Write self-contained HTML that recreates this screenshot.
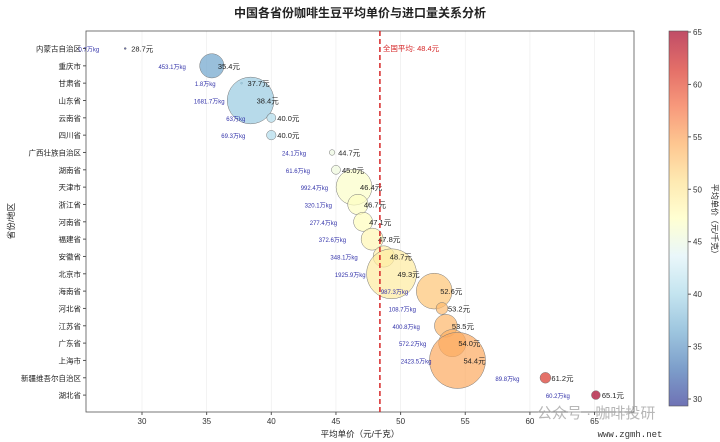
<!DOCTYPE html>
<html><head><meta charset="utf-8"><style>
body{margin:0;background:#fff;}
svg{display:block;font-family:"Liberation Sans","Noto Sans CJK SC",sans-serif;}
</style></head><body>
<svg id="s" width="720" height="442" viewBox="0 0 720 442" xmlns="http://www.w3.org/2000/svg"></svg>
<script>
const data=[["内蒙古自治区",28.7,0.7],["重庆市",35.4,453.1],["甘肃省",37.7,1.8],["山东省",38.4,1681.7],["云南省",40.0,63.0],["四川省",40.0,69.3],["广西壮族自治区",44.7,24.1],["湖南省",45.0,61.6],["天津市",46.4,992.4],["浙江省",46.7,320.1],["河南省",47.1,277.4],["福建省",47.8,372.6],["安徽省",48.7,348.1],["北京市",49.3,1925.9],["海南省",52.6,987.3],["河北省",53.2,108.7],["江苏省",53.5,400.8],["广东省",54.0,572.2],["上海市",54.4,2423.5],["新疆维吾尔自治区",61.2,89.8],["湖北省",65.1,60.2]];
const stops=[[49,54,149],[69,117,180],[116,173,209],[171,217,233],[224,243,248],[255,255,191],[254,224,144],[253,174,97],[244,109,67],[215,48,39],[165,0,38]];
function col(v){let t=(v-28.7)/(65.1-28.7);t=Math.max(0,Math.min(1,t))*(stops.length-1);let i=Math.min(Math.floor(t),stops.length-2),f=t-i;let c=stops[i].map((a,k)=>Math.round(a+(stops[i+1][k]-a)*f));return `rgb(${c})`;}
const X=v=>142+(v-30)*12.93, Y=i=>48.5+i*17.33;
let h='';
h+=`<text x="360" y="17" font-size="12" font-weight="bold" text-anchor="middle" fill="#222">中国各省份咖啡生豆平均单价与进口量关系分析</text>`;
for(let v=30;v<=65;v+=5){h+=`<line x1="${X(v)}" y1="31" x2="${X(v)}" y2="412" stroke="#eee" stroke-width="0.7"/><line x1="${X(v)}" y1="412" x2="${X(v)}" y2="415" stroke="#555"/><text x="${X(v)}" y="424" font-size="8" text-anchor="middle" fill="#333">${v}</text>`;}
h+=`<rect x="86" y="31" width="548" height="381" fill="none" stroke="#555" stroke-width="0.8"/>`;
data.forEach((d,i)=>{const y=Y(i),x=X(d[1]),r=Math.max(1,Math.sqrt(d[2])*0.57);
h+=`<line x1="83" y1="${y}" x2="86" y2="${y}" stroke="#555"/><text x="81" y="${y+3}" font-size="7.5" text-anchor="end" fill="#222">${d[0]}</text>`;
h+=`<circle cx="${x}" cy="${y}" r="${r}" fill="${col(d[1])}" fill-opacity="0.7" stroke="#777" stroke-width="0.5"/>`;});
data.forEach((d,i)=>{const y=Y(i),x=X(d[1]);
h+=`<text x="${x+6}" y="${y+3}" font-size="7.5" fill="#222">${d[1].toFixed(1)}元</text>`;
h+=`<text x="${x-26}" y="${y+3}" font-size="6" text-anchor="end" fill="#3333aa">${d[2]}万kg</text>`;});
const ax=X(48.4);
h+=`<line x1="${ax}" y1="31" x2="${ax}" y2="412" stroke="#d62728" stroke-width="1.5" stroke-dasharray="5,3"/><text x="${ax+3}" y="51" font-size="7.5" fill="#d62728">全国平均: 48.4元</text>`;
h+=`<text x="360" y="437" font-size="8.5" text-anchor="middle" fill="#222">平均单价（元/千克）</text>`;
h+=`<text transform="translate(14,221) rotate(-90)" font-size="8.5" text-anchor="middle" fill="#222">省份/地区</text>`;
h+=`<defs><linearGradient id="g" x1="0" y1="1" x2="0" y2="0">`;stops.forEach((c,k)=>{h+=`<stop offset="${k/(stops.length-1)}" stop-color="rgb(${c})" stop-opacity="0.7"/>`});h+=`</linearGradient></defs>`;
h+=`<rect x="669" y="31" width="19" height="375" fill="url(#g)" stroke="#555" stroke-width="0.6"/>`;
const CY=v=>32+(65-v)*10.486;
for(let v=30;v<=65;v+=5){h+=`<line x1="688" y1="${CY(v)}" x2="691" y2="${CY(v)}" stroke="#555"/><text x="693" y="${CY(v)+3}" font-size="8" fill="#333">${v}</text>`;}
h+=`<text transform="translate(712,221) rotate(90)" font-size="8" text-anchor="middle" fill="#222">平均单价（元/千克）</text>`;
h+=`<text x="537" y="418" font-size="15" fill="#aaa" fill-opacity="0.85">公众号 · 咖啡投研</text>`;
h+=`<text x="630" y="437" font-size="9" font-family="Liberation Mono,monospace" text-anchor="middle" fill="#333">www.zgmh.net</text>`;
document.getElementById('s').innerHTML=h;
</script>
</body></html>
